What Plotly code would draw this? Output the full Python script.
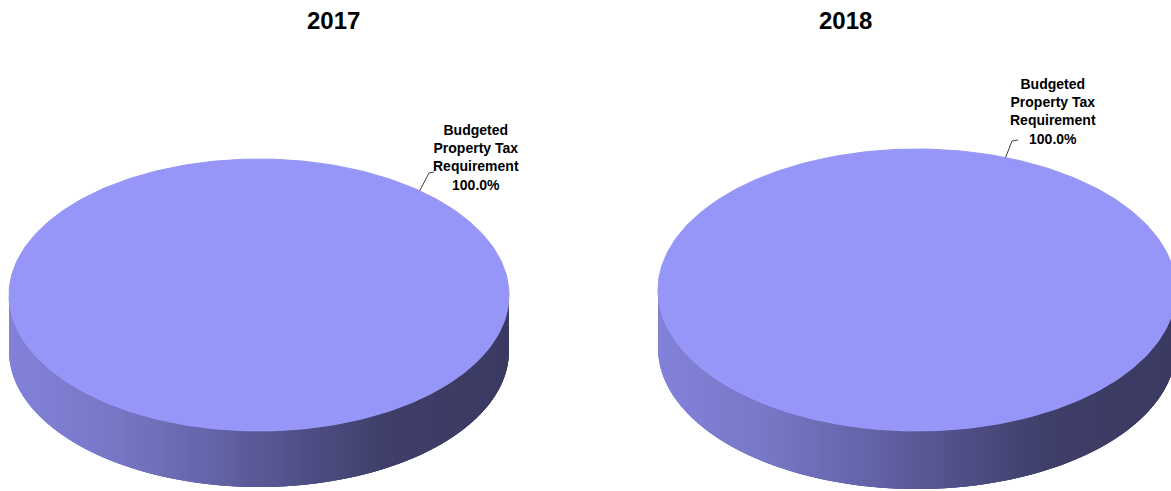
import numpy as np
import plotly.graph_objects as go

# Budget composition per year (share of total, %)
years = ["2017", "2018"]
categories = ["Budgeted Property Tax Requirement"]
shares_2017 = [100.0]
shares_2018 = [100.0]
series = [shares_2017, shares_2018]

W, H = 1171, 491

# Geometry of each 3-D pie: centre, radii, thickness, title x, label placement
pies = [
    dict(cx=259, cy=295, rx=250, ry=136, depth=56, title_x=333,
         label_ang=50, label_xy=(476, 157), elbow=(429, 173), tail=(434, 172)),
    dict(cx=917, cy=290, rx=259, ry=141, depth=58, title_x=845,
         label_ang=70, label_xy=(1053, 111), elbow=(1012, 141), tail=(1018, 140)),
]

TOP = "#9696F8"
# side shading: (position across the pie, rgb)
side_stops = [(0.0, (130, 130, 218)), (0.2, (120, 120, 200)), (0.4, (100, 100, 170)),
              (0.6, (78, 78, 132)), (0.76, (62, 62, 104)), (1.0, (58, 58, 98))]


def side_colour(t):
    t = min(max(t, 0.0), 1.0)
    for (t0, c0), (t1, c1) in zip(side_stops[:-1], side_stops[1:]):
        if t <= t1:
            f = (t - t0) / (t1 - t0) if t1 > t0 else 0
            c = [round(a + (b - a) * f) for a, b in zip(c0, c1)]
            return "rgb({},{},{})".format(*c)
    return "rgb({},{},{})".format(*side_stops[-1][1])


fig = go.Figure()

for year, vals, p in zip(years, series, pies):
    total = sum(vals)
    cx, cy, rx, ry, d = p["cx"], p["cy"], p["rx"], p["ry"], p["depth"]
    start = 0.0
    for cat, v in zip(categories, vals):
        sweep = 2 * np.pi * v / total
        # visible front wall: the part of the slice lying in the lower half,
        # built from overlapping bands so no seams show between them
        lo, hi = max(start, 0.0), min(start + sweep, np.pi)
        if hi > lo:
            n = 180
            th = np.linspace(lo, hi, n + 1)
            for i in range(n):
                a0, a1 = th[i], th[min(i + 3, n)]
                arc = np.linspace(a0, a1, 6)
                xs = np.concatenate([cx + rx * np.cos(arc), cx + rx * np.cos(arc[::-1])])
                ys = np.concatenate([cy + ry * np.sin(arc), cy + ry * np.sin(arc[::-1]) + d])
                t = (cx + rx * np.cos(th[i] + (th[1] - th[0]) / 2) - (cx - rx)) / (2 * rx)
                col = side_colour(t)
                fig.add_trace(go.Scatter(x=np.append(xs, xs[0]), y=np.append(ys, ys[0]),
                                         mode="lines", fill="toself", fillcolor=col,
                                         line=dict(width=0), hoverinfo="skip",
                                         showlegend=False))
        # top face of the slice
        tt = np.linspace(start, start + sweep, 361)
        xs = cx + rx * np.cos(tt)
        ys = cy + ry * np.sin(tt)
        if v < total:
            xs = np.concatenate([[cx], xs, [cx]])
            ys = np.concatenate([[cy], ys, [cy]])
        fig.add_trace(go.Scatter(x=xs, y=ys, mode="lines", fill="toself",
                                 fillcolor=TOP, line=dict(color=TOP, width=1),
                                 name=cat, hovertemplate=f"{year}<br>{cat}: {v:.1f}%<extra></extra>",
                                 showlegend=False))
        start += sweep

        # leader line and label
        a = np.radians(p["label_ang"])
        ex, ey = cx + rx * np.cos(a), cy - ry * np.sin(a)
        fig.add_trace(go.Scatter(x=[ex, p["elbow"][0], p["tail"][0]],
                                 y=[ey, p["elbow"][1], p["tail"][1]], mode="lines",
                                 line=dict(color="#404040", width=1),
                                 hoverinfo="skip", showlegend=False))
        fig.add_annotation(x=p["label_xy"][0], y=p["label_xy"][1], xref="x", yref="y",
                           text="<b>Budgeted<br>Property Tax<br>Requirement<br>{:.1f}%</b>".format(100 * v / total),
                           showarrow=False, align="center",
                           font=dict(family="Liberation Sans, Arial", size=14, color="#000000"))

    fig.add_annotation(x=p["title_x"], y=20, xref="x", yref="y", text=f"<b>{year}</b>",
                       showarrow=False, font=dict(family="Liberation Sans, Arial", size=24, color="#000000"))

fig.update_xaxes(range=[0, W], visible=False, fixedrange=True)
fig.update_yaxes(range=[H, 0], visible=False, fixedrange=True)
fig.update_layout(width=W, height=H, autosize=False,
                  margin=dict(l=0, r=0, t=0, b=0),
                  paper_bgcolor="white", plot_bgcolor="white")

fig.write_html("out.html")
